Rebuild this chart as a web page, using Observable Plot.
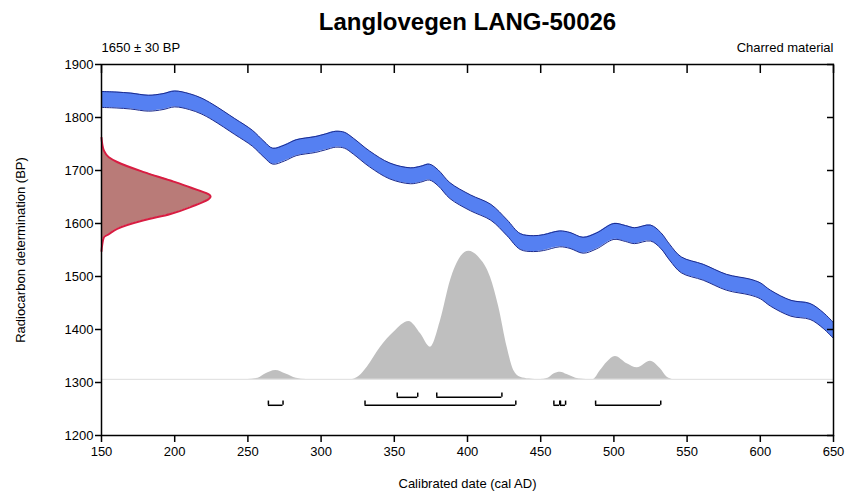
<!DOCTYPE html>
<html><head><meta charset="utf-8">
<script src="https://cdn.jsdelivr.net/npm/d3@7"></script>
<script src="https://cdn.jsdelivr.net/npm/@observablehq/plot@0.6"></script>
<style>body{margin:0;background:#fff}</style>
</head><body><div id="chart"></div>
<script>
// Calibration curve (cal AD -> BP centre), half-width of band in BP
const curveCal = [150,160,170,182,192,200,210,218,226,241,253,261,267,275,283,296,303,310,316,322,333,347,361,368,374,380,388,402,416,427,436,445,452,463,470,479,488,500,508,514,525,532,538,546,561,577,593,600,607,621,634,643,650];
const curveBP  = [1834,1833,1831,1827,1830,1835,1830,1822,1810,1783,1761,1740,1727,1733,1743,1749,1754,1759,1757,1746,1722,1699,1690,1693,1697,1686,1662,1639,1621,1592,1566,1562,1564,1571,1568,1559,1567,1585,1581,1577,1582,1568,1546,1522,1508,1489,1480,1473,1459,1440,1434,1417,1398];
const curveErr = 15;

// Radiocarbon measurement distribution (BP -> extent in years from 150)
const measBP    = [1762,1750,1738,1725,1716,1697,1681,1668,1651,1631,1618,1606,1590,1580,1574,1560,1548];
const measWidth = [0,0.5,1.6,5,10.7,28.9,47.1,60.8,74.5,60.8,47.1,28.9,10.7,5,1.6,0.5,0];

// Calibrated probability distribution (cal AD -> top in BP above baseline)
const probBase = 1306;
const probCal = [150,250,257,262,269,276,283,290,320,326,331.5,340.6,349.7,360,368,374.7,381.6,388.4,395.2,400.9,407.7,415.7,421.4,427.1,431.6,436.2,442,450,455,459,463.5,468,476,486,490.8,495.4,501,509,516,525,531.8,536.4,541,650];
const probBP  = [1306,1306,1308,1316,1322.6,1316,1308,1306,1306,1312,1328.9,1366.6,1394.9,1415.1,1391.9,1366.6,1417,1492.5,1536.4,1547.7,1536.4,1498.7,1442,1366.6,1322.6,1310,1307,1306,1308,1316,1319.4,1315,1307,1306,1322.6,1338.3,1349,1335.3,1327.7,1340.2,1325.8,1310,1306,1306];

// Calibrated ranges (68% upper row, 95% lower row)
const rangeFrom = [352,379,264,330,459,463.5,487.5];
const rangeTo   = [366,423.5,274,433,463,467,532];
const rangeRow  = [0,0,1,1,1,1,1];

const xTicks = [150,200,250,300,350,400,450,500,550,600,650];
const yTicks = [1200,1300,1400,1500,1600,1700,1800,1900];

const titleText = "Langlovegen LANG-50026";
const leftNote = "1650 ± 30 BP";
const rightNote = "Charred material";
const xLabel = "Calibrated date (cal AD)";
const yLabel = "Radiocarbon determination (BP)";

const curve = curveCal.map((c,i)=>({cal:c, bp:curveBP[i]}));
const meas = measBP.map((b,i)=>({bp:b, w:measWidth[i]}));
const prob = probCal.map((c,i)=>({cal:c, bp:probBP[i]}));
const ranges = rangeFrom.map((f,i)=>({from:f, to:rangeTo[i], row:rangeRow[i]}));
const rowY = [1272, 1257];
const ends = ranges.flatMap(r=>[{x:r.from,row:r.row},{x:r.to,row:r.row}]);

const font = "'Liberation Sans', Arial, sans-serif";
const chart = Plot.plot({
  width:848, height:493,
  marginLeft:101, marginRight:15, marginTop:64, marginBottom:58,
  style:{fontFamily:font, fontSize:"13px", background:"#fff", color:"#000", overflow:"visible"},
  x:{domain:[150,650]},
  y:{domain:[1200,1900]},
  marks:[
    Plot.ruleY([probBase], {stroke:"#dddddd", strokeWidth:1}),
    Plot.areaY(prob, {x:"cal", y1:probBase, y2:"bp", fill:"#bfbfbf", curve:"monotone-x"}),
    Plot.areaY(curve, {x:"cal", y1:d=>d.bp-curveErr, y2:d=>d.bp+curveErr, fill:"#5580f2", curve:"catmull-rom", clip:true}),
    Plot.lineY(curve, {x:"cal", y:d=>d.bp+curveErr, stroke:"#1b2a8c", strokeWidth:1, curve:"catmull-rom", clip:true}),
    Plot.lineY(curve, {x:"cal", y:d=>d.bp-curveErr, stroke:"#1b2a8c", strokeWidth:1, curve:"catmull-rom", clip:true}),
    Plot.areaX(meas, {y:"bp", x1:150, x2:d=>150+d.w, fill:"#b97b78", curve:"monotone-y"}),
    Plot.lineX(meas, {y:"bp", x:d=>150+d.w, stroke:"#d81d42", strokeWidth:2, curve:"monotone-y"}),
    Plot.ruleY(ranges, {x1:"from", x2:"to", y:d=>rowY[d.row], stroke:"#000", strokeWidth:1.5}),
    Plot.ruleX(ends, {x:"x", y1:d=>rowY[d.row], y2:d=>rowY[d.row]+8, stroke:"#000", strokeWidth:1.5}),
    Plot.frame({stroke:"#000", strokeWidth:1.5}),
    Plot.axisY({ticks:yTicks, tickSize:6, tickPadding:2, tickFormat:"d", label:null, fontSize:13, strokeWidth:1.5}),
    Plot.axisY({anchor:"right", ticks:yTicks, tickSize:7, dx:-7, tickFormat:()=>"", label:null, strokeWidth:1.5}),
    Plot.axisX({ticks:xTicks, tickSize:7, tickPadding:4, tickFormat:"d", label:null, fontSize:13, strokeWidth:1.5}),
    Plot.axisX({anchor:"top", ticks:xTicks, tickSize:8, dy:8, tickFormat:()=>"", label:null, strokeWidth:1.5}),
    Plot.text([titleText], {text:d=>d, frameAnchor:"top", dy:-42, lineAnchor:"middle", fontSize:24, fontWeight:"bold"}),
    Plot.text([leftNote], {text:d=>d, frameAnchor:"top-left", dy:-17, lineAnchor:"middle", textAnchor:"start", fontSize:13}),
    Plot.text([rightNote], {text:d=>d, frameAnchor:"top-right", dy:-17, lineAnchor:"middle", textAnchor:"end", fontSize:13}),
    Plot.text([xLabel], {text:d=>d, frameAnchor:"bottom", dy:48, lineAnchor:"middle", fontSize:13}),
    Plot.text([yLabel], {text:d=>d, frameAnchor:"left", dx:-81, rotate:-90, textAnchor:"middle", fontSize:13})
  ]
});
document.getElementById("chart").appendChild(chart);
</script>
</body></html>
